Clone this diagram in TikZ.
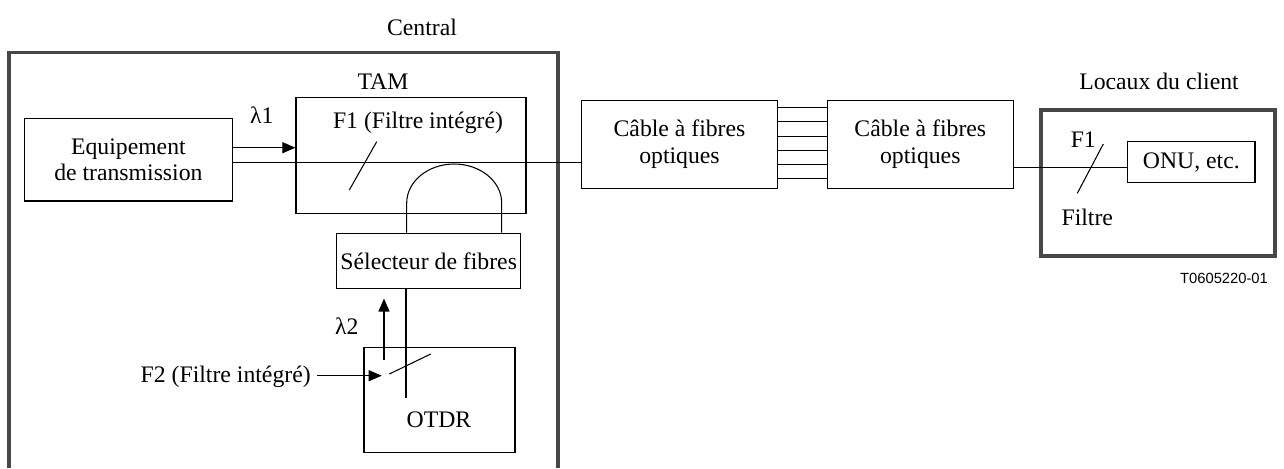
\documentclass[tikz,border=0pt]{standalone}
\usepackage{fontspec}
\setmainfont{Liberation Serif}
\newfontfamily\figfont{Liberation Sans}
\usetikzlibrary{arrows.meta,positioning}
\definecolor{framegray}{gray}{0.28}

\begin{document}
\begin{tikzpicture}[x=0.02cm, y=-0.02cm,
  font=\fontsize{13.5}{15.2}\selectfont,
  box/.style={draw, line width=0.7pt, inner sep=0pt, align=center},
  thickframe/.style={draw=framegray, line width=2pt},
  fibre/.style={line width=0.6pt},
  arr/.style={fibre, -{Triangle[length=0.26cm, width=0.22cm]}}]
\useasboundingbox (0,0) rectangle (1284,468);

\draw [thickframe] (9,468) -- (9,52.3) -- (558,52.3) -- (558,468);

\node (central) at (422,27) {Central};
\node (tamlabel) at (383,82) {TAM};
\node (lambda1) at (261.7,115) {λ1};
\node (lambda2) at (346.7,326) {λ2};
\node (locaux) at (1159,81.7) {Locaux du client};

\node [box, minimum width=4.17cm, minimum height=1.65cm] (equip) at (128.4,159.7) {Equipement\\de transmission};
\node [box, minimum width=4.60cm, minimum height=2.32cm] (tam) at (411,155.3) {};
\node (f1tam) at (418,123) {F1 (Filtre intégré)};
\node [box, minimum width=3.68cm, minimum height=1.11cm] (sel) at (428.7,261) {Sélecteur de fibres};
\node [box, minimum width=3.02cm, minimum height=2.10cm] (otdr) at (439.5,399.8) {};
\node (otdrlabel) at (439,420) {OTDR};
\node (f2) at (225.7,376.7) {F2 (Filtre intégré)};

\node [box, minimum width=3.91cm, minimum height=1.77cm] (cable1) at (679.5,144.35) {Câble à fibres\\optiques};
\node [box, minimum width=3.72cm, minimum height=1.77cm] (cable2) at (920.3,144.35) {Câble à fibres\\optiques};

\node [box, thickframe, minimum width=4.68cm, minimum height=2.92cm] (client) at (1158,183) {};
\node [box, minimum width=2.55cm, minimum height=0.82cm] (onu) at (1191.35,162.2) {ONU, etc.};
\node (f1client) at (1083.3,140) {F1};
\node (filtre) at (1087.3,217.3) {Filtre};

\node [font=\figfont\fontsize{8.4}{10}\selectfont] (tnum) at (1224,278.3) {T0605220-01};

\coordinate (y1) at (0,147.7);
\coordinate (y2) at (0,162.7);
\coordinate (y3) at (0,167.7);
\coordinate (loopl) at (406.7,203);
\coordinate (loopr) at (501.7,203);
\coordinate (otdrend) at (406,397.7);
\coordinate (l2a) at (384,360);
\coordinate (l2b) at (384,298.5);
\coordinate (f2tip) at (381.7,375.7);

\draw [arr] (equip.east |- y1) -- (tam.west |- y1);
\draw [fibre] (equip.east |- y2) -- (cable1.west |- y2);
\draw [fibre] (376.7,141.7) -- (349.3,190);

\draw [fibre] (sel.north -| loopl) -- (loopl) arc [start angle=180, end angle=360, x radius=47.5, y radius=39] -- (sel.north -| loopr);
\draw [fibre] (sel.south -| otdrend) -- (otdrend);
\draw [arr] (l2a) -- (l2b);
\draw [arr] (f2.east |- f2tip) -- (f2tip);
\draw [fibre] (389.3,374) -- (430.7,354);

\foreach \k in {0,...,5} {
  \coordinate (yk) at (0,{107.7+14.2*\k});
  \draw [fibre] (cable1.east |- yk) -- (cable2.west |- yk);
}

\draw [fibre] (cable2.east |- y3) -- (onu.west |- y3);
\draw [fibre] (1103.3,144) -- (1077.3,193.3);
\end{tikzpicture}
\end{document}
